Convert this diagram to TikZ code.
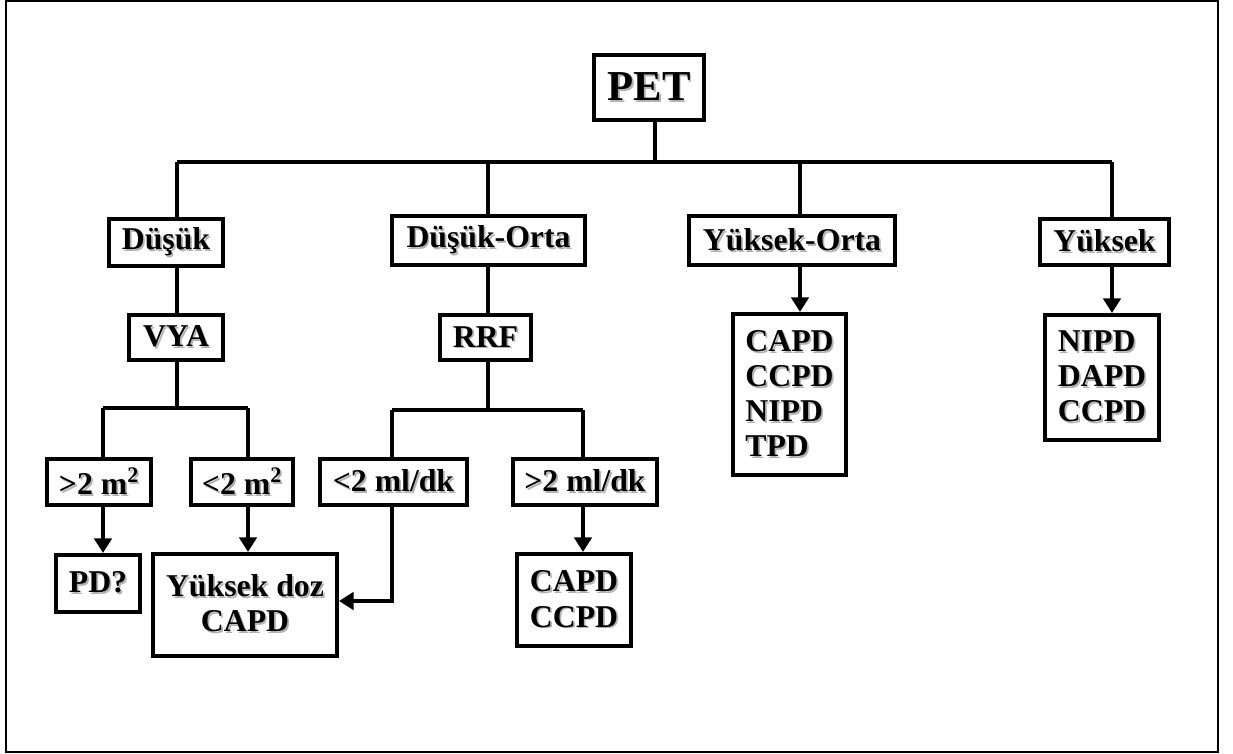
\documentclass[tikz,border=0pt]{standalone}
\usepackage{fontspec}
\setmainfont{Liberation Serif}
\usetikzlibrary{arrows.meta}
\newcommand\shd[1]{\leavevmode\rlap{\kern1.3pt\raisebox{-1.3pt}{\textcolor{black!30}{#1}}}#1}
\begin{document}
\begin{tikzpicture}[x=0.75pt,y=-0.75pt,
  bx/.style={draw=black,line width=3pt,fill=white,inner sep=0pt,
    font=\fontsize{23.8}{26.3}\selectfont\bfseries},
  ln/.style={line width=3pt},
  arr/.style={line width=3pt,-{Triangle[width=13pt,length=11pt]}}]
\useasboundingbox (0,0) rectangle (1233,754);
\draw[line width=1.1pt] (6,1) rectangle (1218,752);
% boxes
\node[bx,minimum width=110*0.75pt,minimum height=65*0.75pt,font=\fontsize{32}{36}\selectfont\bfseries] (PET) at (649,87.5) {\shd{PET}};
\node[bx,minimum width=114*0.75pt,minimum height=47*0.75pt] (dus) at (166,242.5) {\shd{Düşük}};
\node[bx,minimum width=94*0.75pt,minimum height=45*0.75pt] (vya) at (176,337.5) {\shd{VYA}};
\node[bx,minimum width=193*0.75pt,minimum height=49*0.75pt] (duso) at (488.5,240.5) {\shd{Düşük-Orta}};
\node[bx,minimum width=91*0.75pt,minimum height=45*0.75pt] (rrf) at (485.5,337.5) {\shd{RRF}};
\node[bx,minimum width=206*0.75pt,minimum height=49*0.75pt] (yuko) at (792,240.5) {\shd{Yüksek-Orta}};
\node[bx,minimum width=129*0.75pt,minimum height=46*0.75pt] (yuk) at (1104.5,242) {\shd{Yüksek}};
\node[bx,minimum width=113*0.75pt,minimum height=161*0.75pt,align=left] (yol) at (789.5,394.5) {\shd{CAPD}\\\shd{CCPD}\\\shd{NIPD}\\\shd{TPD}};
\node[bx,minimum width=114*0.75pt,minimum height=125*0.75pt,align=left] (yl) at (1102,377.5) {\shd{NIPD}\\\shd{DAPD}\\\shd{CCPD}};
\node[bx,minimum width=104*0.75pt,minimum height=46*0.75pt] (g2m) at (99,482) {\shd{>2 m\textsuperscript{2}}};
\node[bx,minimum width=102*0.75pt,minimum height=46*0.75pt] (l2m) at (242,482) {\shd{<2 m\textsuperscript{2}}};
\node[bx,minimum width=147*0.75pt,minimum height=46*0.75pt] (l2ml) at (393.5,482) {\shd{<2 ml/dk}};
\node[bx,minimum width=144*0.75pt,minimum height=46*0.75pt] (g2ml) at (585,482) {\shd{>2 ml/dk}};
\node[bx,minimum width=84*0.75pt,minimum height=57*0.75pt] (pd) at (98,583.5) {\shd{PD?}};
\node[bx,minimum width=184*0.75pt,minimum height=102*0.75pt,align=center] (yd) at (245,605) {\raisebox{3pt}{\shd{Yüksek doz}}\\\raisebox{3pt}{\shd{CAPD}}};
\node[bx,minimum width=114*0.75pt,minimum height=92*0.75pt,align=center] (cc) at (574,600) {\shd{CAPD}\\\shd{CCPD}};
% junction coordinates
\coordinate (j0) at (655,162);
\coordinate (j1) at (177,162);
\coordinate (j2) at (488,162);
\coordinate (j3) at (800,162);
\coordinate (j4) at (1112,162);
\coordinate (v0) at (177,408);
\coordinate (v1) at (103,408);
\coordinate (v2) at (248,408);
\coordinate (r0) at (488,410);
\coordinate (r1) at (392,410);
\coordinate (r2) at (583,410);
\coordinate (bend) at (392,601);
% connectors
\draw[ln] (j0 |- PET.south) -- (j0);
\draw[ln] (j1) -- (j4);
\draw[ln] (j1) -- (j1 |- dus.north);
\draw[ln] (j2) -- (j2 |- duso.north);
\draw[ln] (j3) -- (j3 |- yuko.north);
\draw[ln] (j4) -- (j4 |- yuk.north);
\draw[arr] (j3 |- yuko.south) -- (j3 |- yol.north);
\draw[arr] (j4 |- yuk.south) -- (j4 |- yl.north);
\draw[ln] (j1 |- dus.south) -- (j1 |- vya.north);
\draw[ln] (v0 |- vya.south) -- (v0);
\draw[ln] (v1) -- (v2);
\draw[ln] (v1) -- (v1 |- g2m.north);
\draw[ln] (v2) -- (v2 |- l2m.north);
\draw[arr] (v1 |- g2m.south) -- (v1 |- pd.north);
\draw[arr] (v2 |- l2m.south) -- (v2 |- yd.north);
\draw[ln] (j2 |- duso.south) -- (j2 |- rrf.north);
\draw[ln] (r0 |- rrf.south) -- (r0);
\draw[ln] (r1) -- (r2);
\draw[ln] (r1) -- (r1 |- l2ml.north);
\draw[ln] (r2) -- (r2 |- g2ml.north);
\draw[arr] (r2 |- g2ml.south) -- (r2 |- cc.north);
\draw[arr] (r1 |- l2ml.south) -- (bend) -- (bend -| yd.east);
\end{tikzpicture}
\end{document}
